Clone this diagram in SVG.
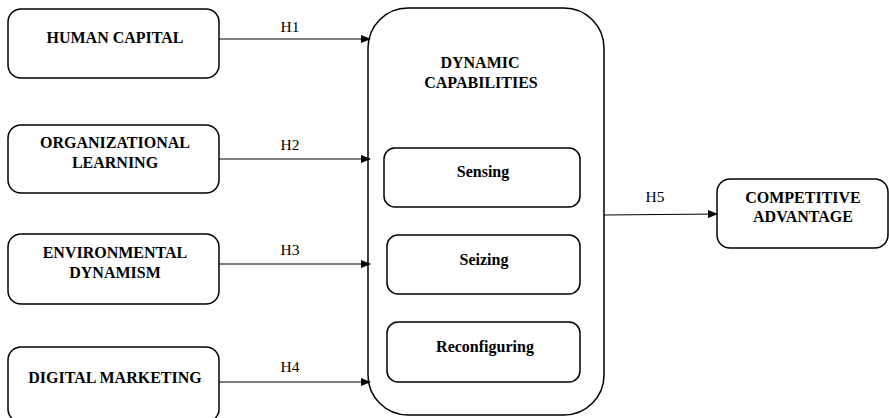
<svg xmlns="http://www.w3.org/2000/svg" width="889" height="418" viewBox="0 0 889 418">
<style>
.box{fill:#fff;stroke:#000;stroke-width:1.5}
.t{font-family:"Liberation Serif","Times New Roman",serif;font-weight:bold;font-size:16px;text-anchor:middle;fill:#000}
.h{font-family:"Liberation Serif","Times New Roman",serif;font-size:15.5px;text-anchor:middle;fill:#000}
.c{stroke:#000;stroke-width:1;fill:none;marker-end:url(#ah)}
</style>
<defs>
<marker id="ah" markerWidth="10" markerHeight="8" refX="9" refY="4" orient="auto" markerUnits="userSpaceOnUse">
<path d="M0,0 L10,4 L0,8 Z" fill="#000"/>
</marker>
</defs>
<rect width="889" height="418" fill="#fff"/>
<g id="human-capital"><rect class="box" x="8" y="9" width="211" height="69" rx="13"/><text class="t" x="115" y="43">HUMAN CAPITAL</text></g>
<g id="organizational-learning"><rect class="box" x="8" y="125" width="211" height="68" rx="13"/><text class="t" x="115" y="148">ORGANIZATIONAL</text><text class="t" x="115" y="168">LEARNING</text></g>
<g id="environmental-dynamism"><rect class="box" x="8" y="234" width="211" height="70" rx="13"/><text class="t" x="115" y="258">ENVIRONMENTAL</text><text class="t" x="115" y="278">DYNAMISM</text></g>
<g id="digital-marketing"><rect class="box" x="8" y="347" width="211" height="75" rx="13"/><text class="t" x="115" y="383">DIGITAL MARKETING</text></g>
<g id="dynamic-capabilities"><rect class="box" x="368" y="8" width="236" height="407" rx="40"/><text class="t" x="480" y="68">DYNAMIC</text><text class="t" x="481" y="88">CAPABILITIES</text></g>
<g id="sensing"><rect class="box" x="384" y="148" width="196" height="59" rx="11"/><text class="t" x="483" y="177">Sensing</text></g>
<g id="seizing"><rect class="box" x="387" y="235" width="193" height="59" rx="11"/><text class="t" x="484" y="265">Seizing</text></g>
<g id="reconfiguring"><rect class="box" x="387" y="322" width="193" height="60" rx="11"/><text class="t" x="485" y="352">Reconfiguring</text></g>
<g id="competitive-advantage"><rect class="box" x="717" y="179" width="171" height="69" rx="13"/><text class="t" x="803" y="203">COMPETITIVE</text><text class="t" x="803" y="222">ADVANTAGE</text></g>
<g id="connectors">
<line class="c" x1="219" y1="39" x2="370" y2="39"/>
<line class="c" x1="219" y1="159" x2="370" y2="159"/>
<line class="c" x1="219" y1="264" x2="370" y2="264"/>
<line class="c" x1="219" y1="382" x2="370" y2="382"/>
<line class="c" x1="604" y1="215" x2="717" y2="214"/>
<text class="h" x="290" y="32">H1</text>
<text class="h" x="290" y="150">H2</text>
<text class="h" x="290" y="255">H3</text>
<text class="h" x="290" y="372">H4</text>
<text class="h" x="655" y="202">H5</text>
</g>
</svg>
